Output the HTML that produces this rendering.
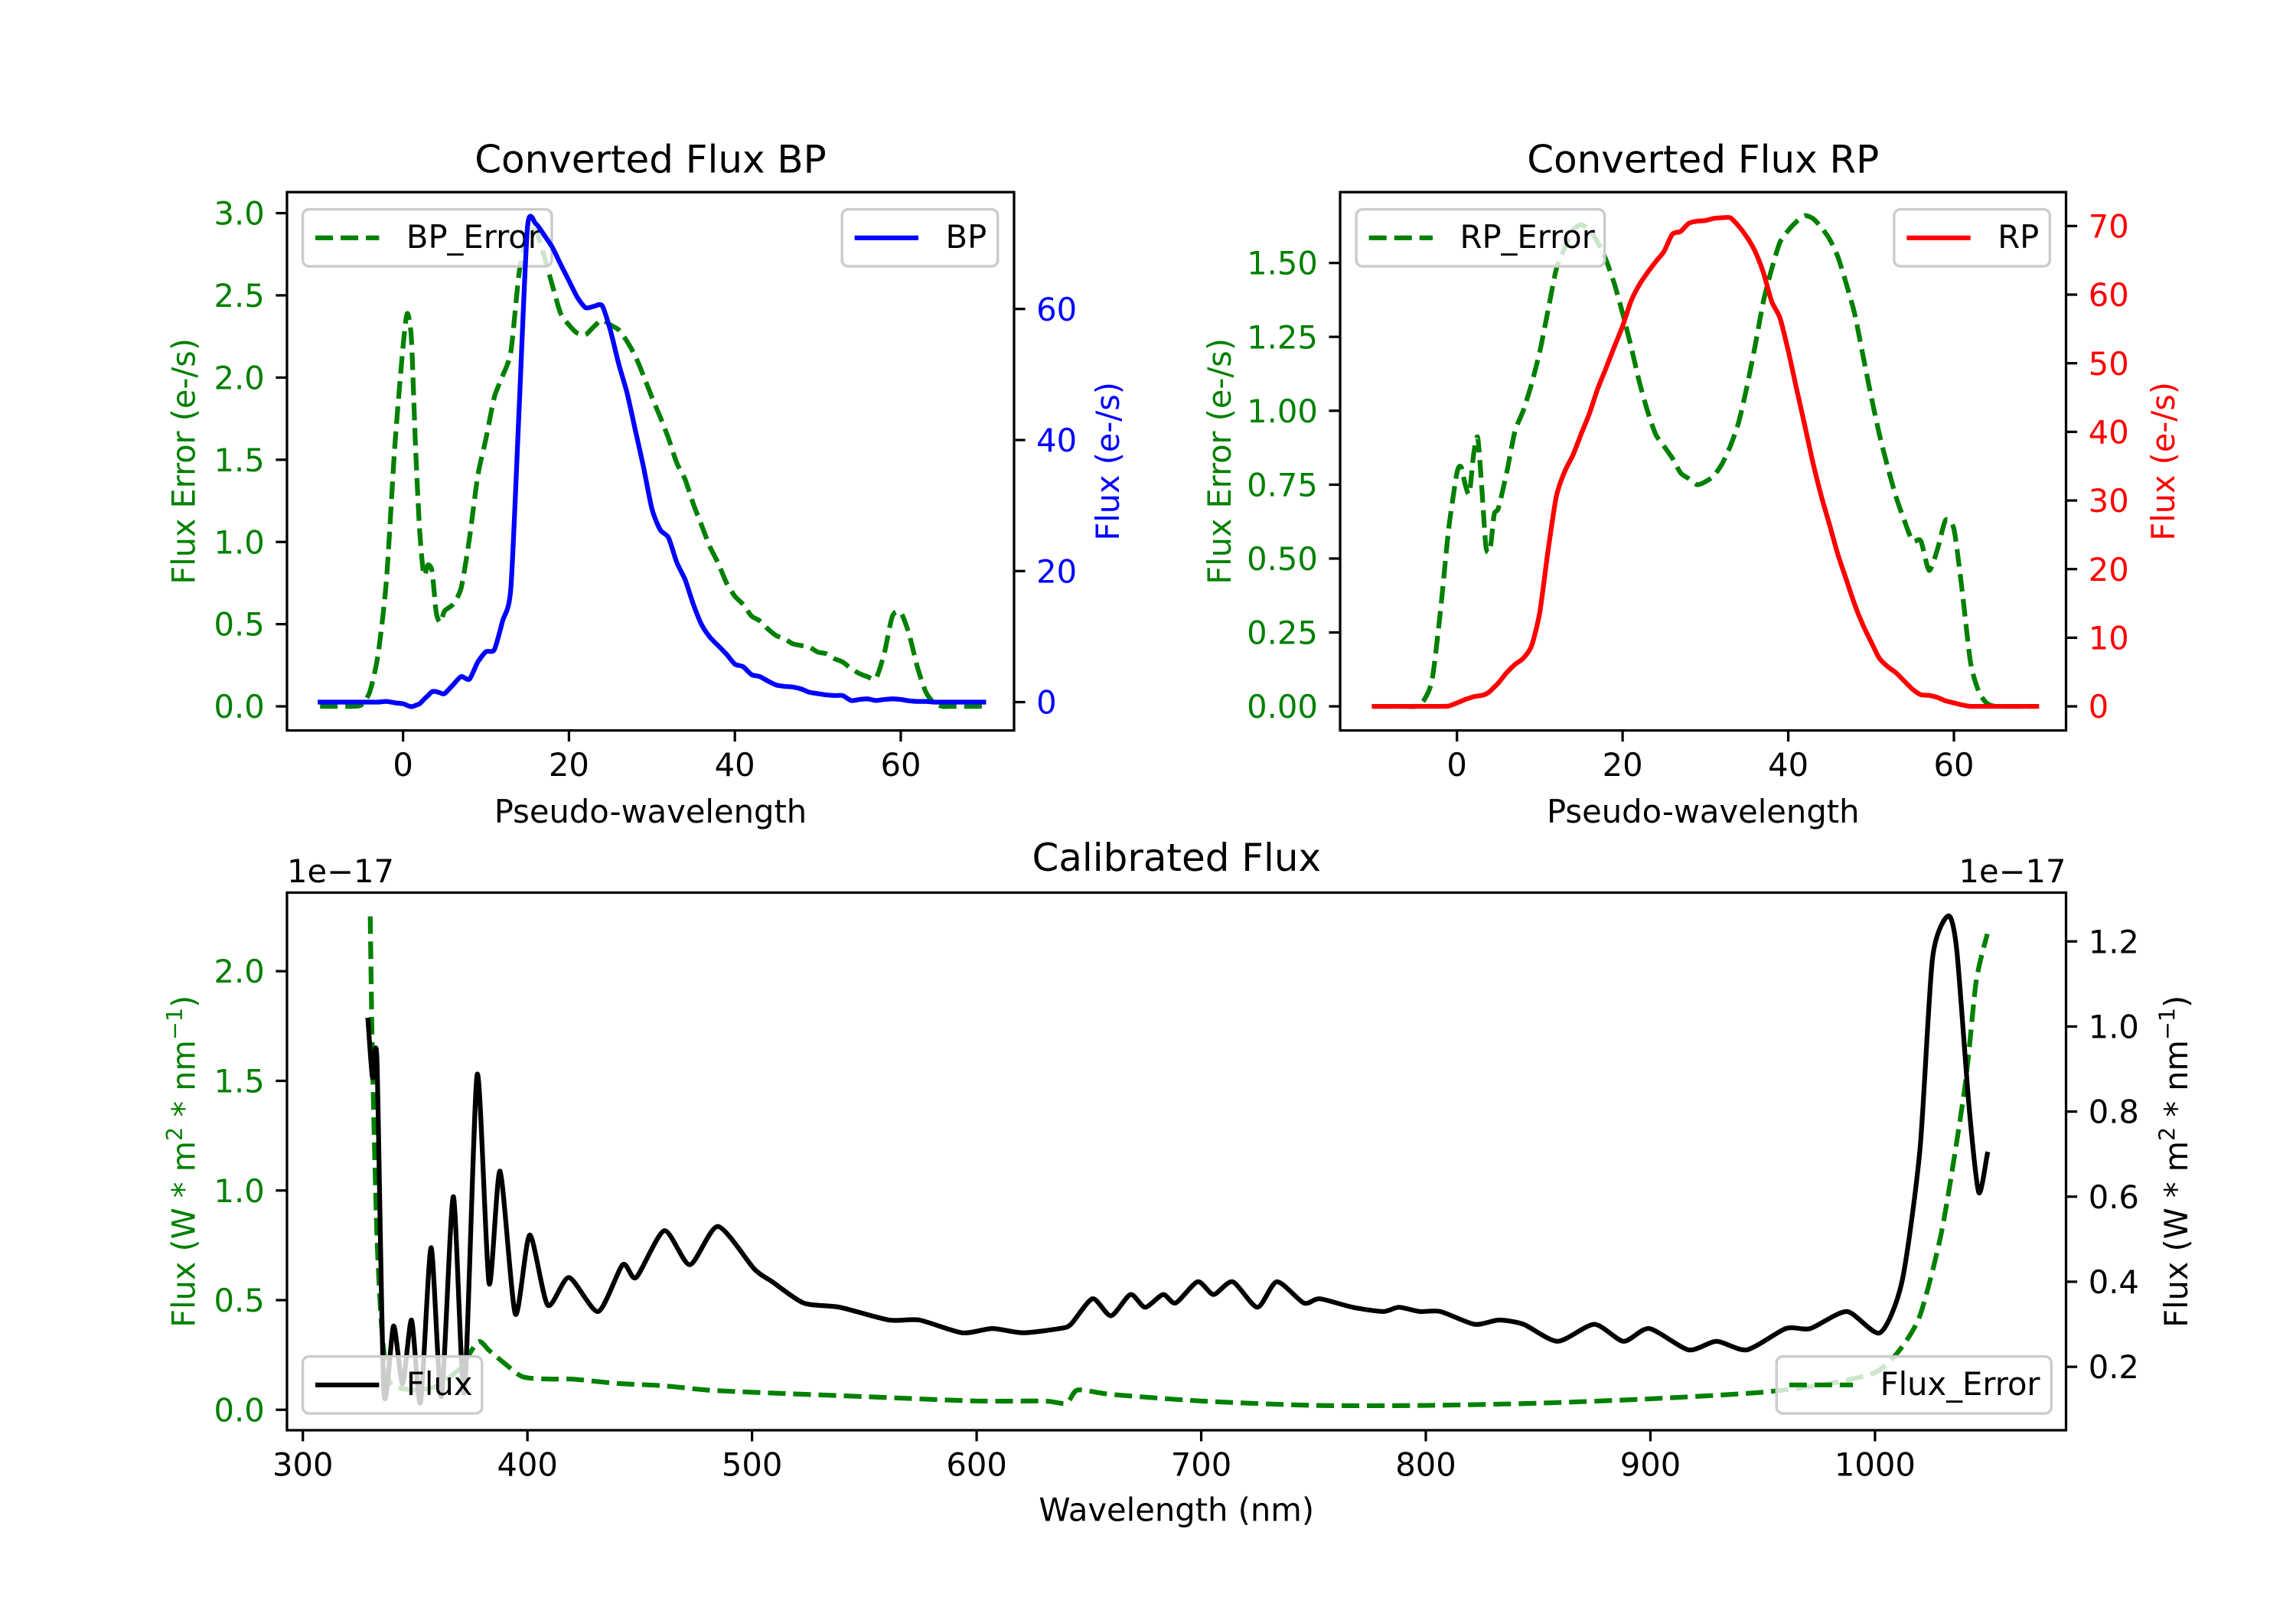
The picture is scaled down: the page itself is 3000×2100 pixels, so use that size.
<!DOCTYPE html>
<html><head><meta charset="utf-8">
<style>
html,body{margin:0;padding:0;background:#fff;}
svg{display:block;}
text{font-family:"DejaVu Sans","Liberation Sans",sans-serif;}
</style></head>
<body>
<svg id="fig" width="3000" height="2100" viewBox="0 0 1562.5 1100" preserveAspectRatio="none" xmlns="http://www.w3.org/2000/svg">
<rect x="0" y="0" width="1562.5" height="1100" fill="#fff"/>
</svg>
<script>
// ---- BP data ----
const bpX = [-10,-9,-8,-7,-6,-5,-4,-3,-2,-1,0,0.5,1,1.5,2,2.5,3,3.5,4,4.5,5,6,7,8,9,10,11,12,13,14,15,16,17,18,19,20,21,22,23,24,25,26,27,28,29,30,31,32,33,34,35,36,37,38,39,40,41,42,43,44,45,46,47,48,49,50,51,52,53,54,55,56,57,58,59,60,61,62,63,64,65,66,67,68,69,70];
const bpErr = [0,0,0,0,0,0.01,0.09,0.32,0.77,1.58,2.19,2.39,2.24,1.58,1.07,0.80,0.86,0.82,0.57,0.51,0.58,0.62,0.72,1.02,1.40,1.63,1.88,2.01,2.16,2.64,2.87,2.89,2.74,2.56,2.39,2.32,2.27,2.26,2.31,2.35,2.32,2.29,2.22,2.13,2.01,1.88,1.76,1.63,1.48,1.38,1.23,1.10,0.97,0.87,0.75,0.67,0.62,0.55,0.52,0.47,0.43,0.41,0.38,0.37,0.36,0.33,0.32,0.29,0.27,0.23,0.20,0.18,0.17,0.32,0.55,0.57,0.44,0.24,0.09,0.02,0,0,0,0,0,0];
const bpFlux = [0,0,0,0,0,0,0,0,0.1,-0.1,-0.25,-0.5,-0.7,-0.5,-0.25,0.4,1.0,1.6,1.6,1.4,1.3,2.6,3.9,3.5,6.1,7.7,8.0,12.4,17.5,45,72.5,73,71.3,69.4,66.8,64.3,61.8,60.2,60.4,60.5,56.7,51.6,47.2,41.5,35.8,29.5,26.3,25.1,21.3,18.7,14.9,11.8,9.9,8.6,7.3,5.8,5.4,4.2,3.9,3.2,2.6,2.4,2.3,2.0,1.5,1.3,1.1,1.0,1.0,0.25,0.4,0.5,0.25,0.4,0.5,0.4,0.2,0.1,0.1,0,0,0,0,0,0,0];
const bpXTicks = [0,20,40,60];
const bpLTicks = [0.0,0.5,1.0,1.5,2.0,2.5,3.0];
const bpRTicks = [0,20,40,60];
// ---- RP data ----
const rpX = [-10,-9,-8,-7,-6,-5,-4,-3,-2,-1,0,0.5,1,1.5,2,2.5,3,3.5,4,4.5,5,6,7,8,9,10,11,12,13,14,15,16,17,18,19,20,21,22,23,24,25,26,27,28,29,30,31,32,33,34,35,36,37,38,39,40,41,42,43,44,45,46,47,48,49,50,51,52,53,54,55,56,57,58,59,60,61,62,63,64,65,66,67,68,69,70];
const rpErr = [0,0,0,0,0,0,0.02,0.09,0.32,0.60,0.79,0.81,0.75,0.72,0.85,0.91,0.74,0.54,0.53,0.65,0.67,0.79,0.93,1.00,1.09,1.20,1.34,1.48,1.55,1.61,1.63,1.61,1.57,1.51,1.43,1.33,1.22,1.10,1.00,0.92,0.88,0.84,0.79,0.77,0.75,0.76,0.78,0.82,0.88,0.96,1.08,1.22,1.37,1.48,1.57,1.61,1.64,1.66,1.65,1.62,1.58,1.52,1.43,1.33,1.19,1.05,0.92,0.81,0.71,0.63,0.56,0.56,0.46,0.53,0.63,0.60,0.39,0.15,0.05,0.01,0,0,0,0,0,0];
const rpFlux = [0,0,0,0,0,0,0,0,0,0.05,0.5,0.75,1.0,1.2,1.4,1.5,1.6,1.8,2.2,2.8,3.4,4.9,6.1,7.0,8.8,13.7,22.7,30.6,34.2,36.6,39.7,42.7,46.3,49.3,52.4,55.4,59.0,61.4,63.2,64.8,66.3,68.8,69.2,70.4,70.7,70.8,71.1,71.2,71.2,70.0,68.4,66.3,63.2,59.0,56.6,51.8,46.3,40.9,35.4,30.6,26.4,22.1,18.5,14.9,11.9,9.4,7.0,5.8,4.9,3.7,2.5,1.7,1.6,1.3,0.8,0.5,0.2,0,0,0,0,0,0,0,0,0];
const rpXTicks = [0,20,40,60];
const rpLTicks = [0.00,0.25,0.50,0.75,1.00,1.25,1.50];
const rpRTicks = [0,10,20,30,40,50,60,70];
// ---- Calibrated data ----
const calWl = [329,331,333,336.1,340.4,344.4,348.4,352.4,357.1,361.7,367,371.9,377.6,382.9,387.8,394.6,401,409,418.5,431.5,442.4,448.4,460.9,472.3,484.8,501,509,523,539,561,574.5,593.5,607,620.7,637,642,651.6,659.8,668.5,675,683,688.6,698.4,705.5,714,725,733.7,745.7,752.7,767.4,781,788,797.3,806.5,821.7,832.6,843.5,858.7,875,888,899.5,916.9,929.4,943,960.3,971.2,987.5,1002.2,1012,1020,1025.6,1032.6,1036.4,1041.9,1046.2,1050];
const calFlux = [1.015,0.88,0.92,0.14,0.296,0.16,0.31,0.116,0.48,0.13,0.60,0.14,0.887,0.396,0.66,0.324,0.51,0.345,0.41,0.33,0.44,0.41,0.52,0.44,0.53,0.43,0.40,0.35,0.34,0.31,0.31,0.28,0.29,0.28,0.29,0.30,0.36,0.32,0.37,0.34,0.37,0.35,0.40,0.37,0.40,0.34,0.40,0.35,0.36,0.34,0.33,0.34,0.33,0.33,0.30,0.31,0.30,0.26,0.30,0.26,0.29,0.24,0.26,0.24,0.29,0.29,0.33,0.28,0.40,0.71,1.16,1.26,1.18,0.81,0.61,0.70];
const errWl = [330,331,333,335,337,340,350,360,370,378,383,390,398,410,420,440,460,480,500,550,600,630,640,645,660,700,750,800,850,900,950,980,1000,1010,1020,1030,1040,1045,1050];
const errVal = [2.25,1.59,0.79,0.39,0.19,0.11,0.09,0.11,0.19,0.31,0.27,0.21,0.15,0.14,0.14,0.12,0.11,0.09,0.08,0.06,0.04,0.04,0.03,0.09,0.07,0.04,0.02,0.02,0.03,0.05,0.08,0.12,0.17,0.26,0.43,0.83,1.47,1.95,2.17];
const calXTicks = [300,400,500,600,700,800,900,1000];
const calLTicks = [0.0,0.5,1.0,1.5,2.0];
const calRTicks = [0.2,0.4,0.6,0.8,1.0,1.2];

const NS = "http://www.w3.org/2000/svg";
const svg = document.getElementById('fig');
const FS = 21.7, LW = 3.25, SP = 1.7, TL = 7.6;
function mk(tag, attrs, parent){const e=document.createElementNS(NS,tag);for(const k in attrs)e.setAttribute(k,attrs[k]);(parent||svg).appendChild(e);return e;}
function lin(d0,d1,p0,p1){return v=>p0+(v-d0)*(p1-p0)/(d1-d0);}
function smoothPath(xs, ys){
  let d = 'M'+xs[0].toFixed(2)+','+ys[0].toFixed(2);
  for(let i=0;i<xs.length-1;i++){
    const x0=xs[Math.max(i-1,0)],y0=ys[Math.max(i-1,0)],x1=xs[i],y1=ys[i],x2=xs[i+1],y2=ys[i+1],x3=xs[Math.min(i+2,xs.length-1)],y3=ys[Math.min(i+2,xs.length-1)];
    const t=0.12;
    d+=' C'+(x1+(x2-x0)*t).toFixed(2)+','+(y1+(y2-y0)*t).toFixed(2)+' '+(x2-(x3-x1)*t).toFixed(2)+','+(y2-(y3-y1)*t).toFixed(2)+' '+x2.toFixed(2)+','+y2.toFixed(2);
  }
  return d;
}
function drawLine(xs, vals, sx, sy, color, dashed, name){
  const p = mk('path',{d:smoothPath(xs.map(sx), vals.map(sy)),fill:'none',stroke:color,'stroke-width':LW,'stroke-linejoin':'round','stroke-linecap':dashed?'butt':'square'});
  if(dashed) p.setAttribute('stroke-dasharray','12 5.2');
  
  
  return p;
}
function legend(x, y, w, label, color, dashed, name){
  const g = mk('g',{});
  
  
  mk('rect',{x:x,y:y,width:w,height:39,rx:4.3,fill:'rgba(255,255,255,0.8)',stroke:'#cccccc','stroke-width':1.8},g);
  const l = mk('line',{x1:x+8.6,x2:x+52,y1:y+19.5,y2:y+19.5,stroke:color,'stroke-width':LW},g);
  if(dashed) l.setAttribute('stroke-dasharray','12 5.2');
  const t = mk('text',{x:x+70.5,y:y+26.5,'font-size':FS,fill:'#000'},g);
  t.textContent = label;
}
function axesFrame(L,R,T,B,name){
  const r = mk('rect',{x:L,y:T,width:R-L,height:B-T,fill:'none',stroke:'#000','stroke-width':SP});
  
  
}
function xTicks(ticks, sx, B, fmt, name){
  const g = mk('g',{});
  
  
  ticks.forEach(v=>{const x=sx(v);mk('line',{x1:x,x2:x,y1:B,y2:B+TL,stroke:'#000','stroke-width':SP},g);
    const t=mk('text',{x:x,y:B+TL+7.6+16,'font-size':FS,'text-anchor':'middle',fill:'#000'},g);t.textContent=fmt(v);});
}
function yTicks(ticks, sy, X, side, color, fmt, name){
  const g = mk('g',{});
  
  
  ticks.forEach(v=>{const y=sy(v);const d=side<0?-TL:TL;mk('line',{x1:X,x2:X+d,y1:y,y2:y,stroke:'#000','stroke-width':SP},g);
    const t=mk('text',{x:X+d+(side<0?-7.6:7.6),y:y+7.9,'font-size':FS,'text-anchor':side<0?'end':'start',fill:color},g);t.textContent=fmt(v);});
}
function textAt(x,y,s,opts,name){
  const t=mk('text',Object.assign({x:x,y:y,'font-size':FS,'text-anchor':'middle',fill:'#000'},opts||{}));
  t.textContent=s;
  
  
  return t;
}
function vlabel(x,y,s,color,name){
  const t=textAt(x,y,s,{fill:color,transform:'rotate(-90 '+x+' '+y+')','dominant-baseline':'central'},name);
  return t;
}
const f1=v=>v.toFixed(1), f2=v=>v.toFixed(2), f0=v=>String(v);

// ===== BP panel =====
{
  const L=195.3,R=690.1,T=131.5,B=500;
  const sx=lin(0,60,274.3,613), syL=lin(0,3,483.5,145.9), syR=lin(0,60,480.6,211.5);
  drawLine(bpX,bpErr,sx,syL,'green',true,'bp-error-line');
  legend(206,143.3,169.5,'BP_Error','green',true,'bp-error-legend');
  drawLine(bpX,bpFlux,sx,syR,'blue',false,'bp-flux-line');
  legend(573,143.3,106,'BP','blue',false,'bp-legend');
  axesFrame(L,R,T,B,'bp-axes');
  xTicks(bpXTicks,sx,B,f0,'bp-x-ticks');
  yTicks(bpLTicks,syL,L,-1,'green',f1,'bp-left-y-ticks');
  yTicks(bpRTicks,syR,R,1,'blue',f0,'bp-right-y-ticks');
  textAt((L+R)/2,118,'Converted Flux BP',{'font-size':26},'bp-title');
  textAt((L+R)/2,563,'Pseudo-wavelength',{},'bp-x-axis-title');
  vlabel(125,(T+B)/2,'Flux Error (e-/s)','green','bp-left-y-axis-title');
  vlabel(754,(T+B)/2,'Flux (e-/s)','blue','bp-right-y-axis-title');
}
// ===== RP panel =====
{
  const L=912,R=1406,T=131.5,B=500;
  const sx=lin(0,60,991.5,1329.7), syL=lin(0,1.5,483.5,180), syR=lin(0,70,483.5,154.7);
  drawLine(rpX,rpErr,sx,syL,'green',true,'rp-error-line');
  legend(923,143.3,169,'RP_Error','green',true,'rp-error-legend');
  drawLine(rpX,rpFlux,sx,syR,'red',false,'rp-flux-line');
  legend(1289,143.3,106,'RP','red',false,'rp-legend');
  axesFrame(L,R,T,B,'rp-axes');
  xTicks(rpXTicks,sx,B,f0,'rp-x-ticks');
  yTicks(rpLTicks,syL,L,-1,'green',f2,'rp-left-y-ticks');
  yTicks(rpRTicks,syR,R,1,'red',f0,'rp-right-y-ticks');
  textAt((L+R)/2,118,'Converted Flux RP',{'font-size':26},'rp-title');
  textAt((L+R)/2,563,'Pseudo-wavelength',{},'rp-x-axis-title');
  vlabel(830,(T+B)/2,'Flux Error (e-/s)','green','rp-left-y-axis-title');
  vlabel(1472,(T+B)/2,'Flux (e-/s)','red','rp-right-y-axis-title');
}
// ===== Calibrated panel =====
{
  const L=195.3,R=1406,T=611,B=979;
  const sx=lin(300,1000,206.1,1276), syL=lin(0,2,965,664.8), syR=lin(0.2,1.2,935.6,644.4);
  drawLine(errWl,errVal,sx,syL,'green',true,'calibrated-error-line');
  drawLine(calWl,calFlux,sx,syR,'#000',false,'calibrated-flux-line');
  legend(206,928.5,122,'Flux','#000',false,'flux-legend');
  legend(1209,928.5,187,'Flux_Error','green',true,'flux-error-legend');
  axesFrame(L,R,T,B,'calibrated-axes');
  xTicks(calXTicks,sx,B,f0,'calibrated-x-ticks');
  yTicks(calLTicks,syL,L,-1,'green',f1,'calibrated-left-y-ticks');
  yTicks(calRTicks,syR,R,1,'#000',f1,'calibrated-right-y-ticks');
  textAt((L+R)/2,596,'Calibrated Flux',{'font-size':26},'calibrated-title');
  textAt(L,604,'1e\u221217',{'text-anchor':'start'},'left-offset-text');
  textAt(R,604,'1e\u221217',{'text-anchor':'end'},'right-offset-text');
  textAt((L+R)/2,1041,'Wavelength (nm)',{},'calibrated-x-axis-title');
  function unitLabel(x,color,name){
    const y=(T+B)/2;
    const t=mk('text',{x:x,y:y,'font-size':FS,'text-anchor':'middle',fill:color,transform:'rotate(-90 '+x+' '+y+')','dominant-baseline':'central'});
    
    
    t.innerHTML='Flux (W * m<tspan baseline-shift="40%" font-size="15">2</tspan> * nm<tspan baseline-shift="40%" font-size="15">\u22121</tspan>)';
  }
  unitLabel(125,'green','calibrated-left-y-axis-title');
  unitLabel(1481,'#000','calibrated-right-y-axis-title');
}
</script>
</body></html>
